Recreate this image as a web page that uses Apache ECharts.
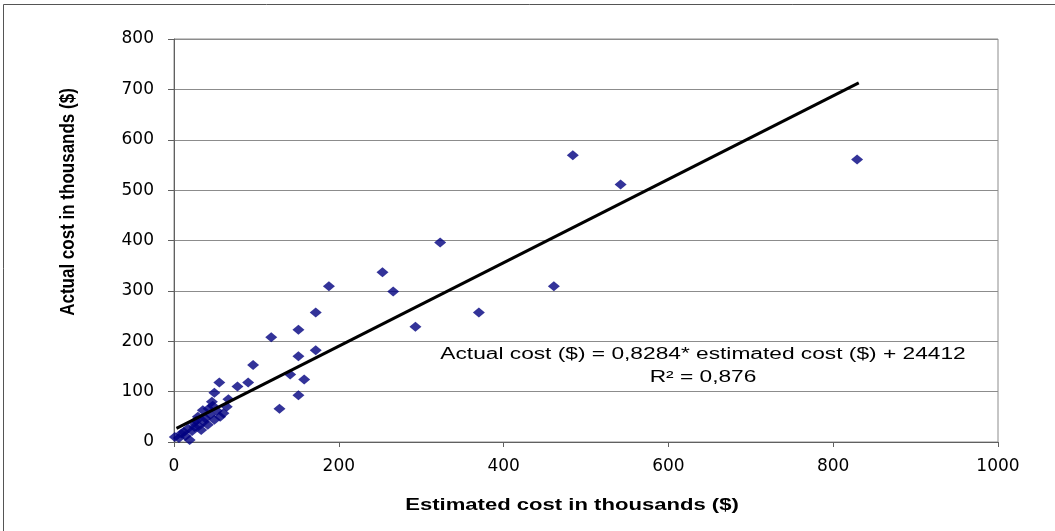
<!DOCTYPE html>
<html>
<head>
<meta charset="utf-8">
<script src="https://cdn.jsdelivr.net/npm/echarts@6/dist/echarts.min.js"></script>
<style>
    html, body { margin: 0; padding: 0; background: #fff; }
    #chart { width: 1055px; height: 531px; }
</style>
</head>
<body>
<div id="chart"></div>
<script>
// estimated vs actual cost, thousands of $
const estimated = [
    829, 484, 542, 323, 461, 370, 293, 253, 188, 266,
    172, 151, 118, 172, 151, 96, 141, 158, 90, 77,
    151, 128, 55, 49, 66, 46, 64, 60, 35, 29,
    49, 41, 17, 9, 1, 19, 33, 24, 38, 52,
    30, 12, 22, 44, 56, 27, 36, 14, 6, 42,
    25, 47
]
const actual = [
    561, 569, 511, 396, 309, 257, 229, 337, 309, 299,
    257, 223, 208, 182, 170, 153, 134, 124, 118, 110,
    93, 66, 118, 98, 85, 80, 70, 57, 63, 50,
    44, 34, 27, 17, 10, 4, 24, 38, 47, 62,
    32, 20, 22, 54, 50, 42, 40, 12, 8, 66,
    30, 72
]
const xTicks = [0, 1000, 200]
const yTicks = [0, 800, 100]
// trend: actual = 0.8284 * estimated + 24.412
const trendX = [3, 831]
const slope = 0.8284
const intercept = 24.412

const points = estimated.map((x, i) => [x, actual[i]])
const trend = trendX.map(x => [x, slope * x + intercept])

const chart = echarts.init(document.getElementById('chart'))
const font = '"Liberation Sans", Arial, sans-serif'
const tickFont = '"DejaVu Sans", sans-serif'

chart.setOption({
    backgroundColor: '#fff',
    animation: false,
    grid: {
        left: 174,
        right: 57,
        top: 39,
        bottom: 89,
        show: true,
        borderColor: '#8c8c8c',
        borderWidth: 1
    },
    xAxis: {
        type: 'value',
        min: xTicks[0],
        max: xTicks[1],
        interval: xTicks[2],
        axisLine: { lineStyle: { color: '#606060', width: 1 } },
        axisTick: { show: true, length: 5, lineStyle: { color: '#606060' } },
        axisLabel: {
            fontFamily: tickFont,
            fontSize: 17,
            color: '#000',
            margin: 16,
            formatter: v => String(v)
        },
        splitLine: { show: false }
    },
    yAxis: {
        type: 'value',
        min: yTicks[0],
        max: yTicks[1],
        interval: yTicks[2],
        axisLine: { show: true, lineStyle: { color: '#606060', width: 1 } },
        axisTick: { show: true, length: 6, lineStyle: { color: '#606060' } },
        axisLabel: {
            fontFamily: tickFont,
            fontSize: 17,
            color: '#000',
            margin: 20,
            formatter: v => String(v)
        },
        splitLine: { show: true, lineStyle: { color: '#8c8c8c', width: 1 } }
    },
    graphic: [
        {
            type: 'rect',
            shape: { x: 3.5, y: 4.5, width: 1200, height: 700 },
            style: { fill: 'none', stroke: '#555', lineWidth: 1 },
            z: -1
        },
        // axis titles (the source picture is stretched sideways)
        {
            type: 'text',
            x: 572,
            y: 506,
            scaleX: 1.38,
            style: {
                text: 'Estimated cost in thousands ($)',
                font: 'bold 16px ' + font,
                fill: '#000',
                textAlign: 'center',
                textVerticalAlign: 'middle'
            }
        },
        {
            type: 'text',
            x: 69,
            y: 202,
            rotation: Math.PI / 2,
            scaleY: 1.15,
            style: {
                text: 'Actual cost in thousands ($)',
                font: 'bold 17px ' + font,
                fill: '#000',
                textAlign: 'center',
                textVerticalAlign: 'middle'
            }
        },
        // regression note
        {
            type: 'text',
            x: 703,
            y: 355,
            scaleX: 1.42,
            style: {
                text: 'Actual cost ($) = 0,8284* estimated cost ($) + 24412',
                font: '16px ' + font,
                fill: '#000',
                textAlign: 'center',
                textVerticalAlign: 'middle'
            }
        },
        {
            type: 'text',
            x: 703,
            y: 378,
            scaleX: 1.42,
            style: {
                text: 'R² = 0,876',
                font: '16px ' + font,
                fill: '#000',
                textAlign: 'center',
                textVerticalAlign: 'middle'
            }
        }
    ],
    series: [
        {
            type: 'scatter',
            data: points,
            symbol: 'diamond',
            symbolSize: [12, 10],
            itemStyle: { color: '#000080' },
            z: 2
        },
        {
            type: 'line',
            data: trend,
            showSymbol: false,
            symbol: 'none',
            lineStyle: { color: '#000', width: 3 },
            z: 3
        }
    ]
})
</script>
</body>
</html>
